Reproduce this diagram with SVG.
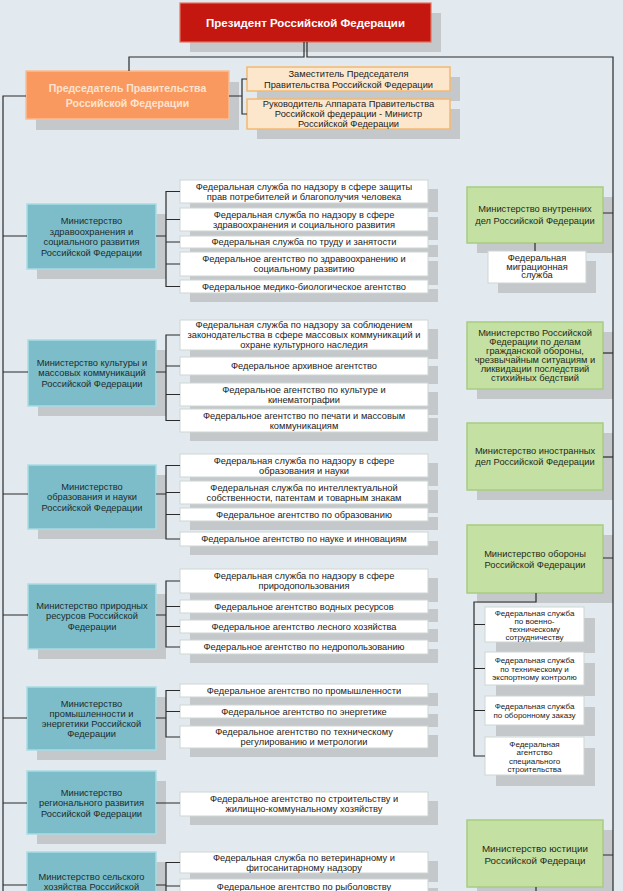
<svg xmlns="http://www.w3.org/2000/svg" width="623" height="891" viewBox="0 0 623 891">
<style>
.sh{fill:#c4c8cb}
.pres{fill:#c3170f;stroke:#e4735f;stroke-width:1.2}
.chair{fill:#f9995f;stroke:#fbbd93;stroke-width:1.5}
.dep{fill:#fde7cc;stroke:#f4b870;stroke-width:1.5}
.min{fill:#7cbdc9;stroke:#a9dbe3;stroke-width:1.5}
.svc{fill:#ffffff;stroke:#cdd6d2;stroke-width:1}
.grn{fill:#c5e0a3;stroke:#a7cd80;stroke-width:1.5}
.conn{stroke:#2b2b2b;stroke-width:1.2;fill:none}
text{font-family:"Liberation Sans",Arial,sans-serif;text-anchor:middle;dominant-baseline:central;fill:#222}
.tp{font-size:11.5px;font-weight:bold;fill:#ffffff}
.tc{font-size:10.5px;font-weight:bold;fill:#fde3cf}
.t{font-size:9.3px}
.tm{font-size:9.3px;fill:#1d2b2e}
.tg{font-size:9.3px;fill:#1f2a18}
.ts{font-size:8px}
</style>
<rect width="623" height="891" fill="#e3eaef"/>

<g id="president"><rect class="sh" x="190" y="13" width="251" height="39"/><rect class="pres" x="180" y="3" width="251" height="39"/><text class="tp" x="305.5" y="22.5">Президент Российской Федерации</text></g>

<g id="chairman"><rect class="sh" x="36" y="82" width="203" height="48"/><rect class="chair" x="26" y="71" width="203" height="48"/><text class="tc"><tspan x="127.5" y="88">Председатель Правительства</tspan><tspan x="127.5" y="103">Российской Федерации</tspan></text></g>

<g id="deputy1"><rect class="sh" x="257" y="77" width="203" height="24"/><rect class="dep" x="247" y="67" width="203" height="24"/><text class="t"><tspan x="348.5" y="73.5">Заместитель Председателя</tspan><tspan x="348.5" y="84.5">Правительства Российской Федерации</tspan></text></g>

<g id="deputy2"><rect class="sh" x="257" y="109" width="203" height="30"/><rect class="dep" x="247" y="99" width="203" height="30"/><text class="t"><tspan x="348.5" y="104">Руководитель Аппарата Правительства</tspan><tspan x="348.5" y="114">Российской федерации - Министр</tspan><tspan x="348.5" y="124">Российской Федерации</tspan></text></g>

<!-- Ministry 1 -->
<g id="m1"><rect class="sh" x="37" y="214" width="129" height="65"/><rect class="min" x="27" y="204" width="129" height="65"/><text class="tm"><tspan x="91.5" y="221">Министерство</tspan><tspan x="91.5" y="231.5">здравоохранения и</tspan><tspan x="91.5" y="242">социального развития</tspan><tspan x="91.5" y="252.5">Российской Федерации</tspan></text></g>
<g id="m1s1"><rect class="sh" x="190" y="189" width="248" height="23"/><rect class="svc" x="180" y="180" width="248" height="23"/><text class="t"><tspan x="304" y="186.5">Федеральная служба по надзору в сфере защиты</tspan><tspan x="304" y="196.5">прав потребителей и благополучия человека</tspan></text></g>
<g id="m1s2"><rect class="sh" x="190" y="217" width="248" height="23"/><rect class="svc" x="180" y="208" width="248" height="23"/><text class="t"><tspan x="304" y="214.5">Федеральная служба по надзору в сфере</tspan><tspan x="304" y="224.5">здравоохранения и социального развития</tspan></text></g>
<g id="m1s3"><rect class="sh" x="190" y="245" width="248" height="12"/><rect class="svc" x="180" y="236" width="248" height="12"/><text class="t" x="304" y="242">Федеральная служба по труду и занятости</text></g>
<g id="m1s4"><rect class="sh" x="190" y="261" width="248" height="24"/><rect class="svc" x="180" y="252" width="248" height="24"/><text class="t"><tspan x="304" y="259">Федеральное агентство по здравоохранению и</tspan><tspan x="304" y="269">социальному развитию</tspan></text></g>
<g id="m1s5"><rect class="sh" x="190" y="289" width="248" height="13"/><rect class="svc" x="180" y="280" width="248" height="13"/><text class="t" x="304" y="286.5">Федеральное медико-биологическое агентство</text></g>

<!-- Ministry 2 -->
<g id="m2"><rect class="sh" x="38" y="350" width="128" height="66"/><rect class="min" x="28" y="340" width="128" height="66"/><text class="tm"><tspan x="92" y="362.5">Министерство культуры и</tspan><tspan x="92" y="373">массовых коммуникаций</tspan><tspan x="92" y="383.5">Российской Федерации</tspan></text></g>
<g id="m2s1"><rect class="sh" x="190" y="329" width="248" height="30"/><rect class="svc" x="180" y="320" width="248" height="30"/><text class="t"><tspan x="304" y="325">Федеральная служба по надзору за соблюдением</tspan><tspan x="304" y="335">законодательства в сфере массовых коммуникаций и</tspan><tspan x="304" y="345">охране культурного наследия</tspan></text></g>
<g id="m2s2"><rect class="sh" x="190" y="366" width="248" height="18"/><rect class="svc" x="180" y="357" width="248" height="18"/><text class="t" x="304" y="366">Федеральное архивное агентство</text></g>
<g id="m2s3"><rect class="sh" x="190" y="392" width="248" height="23"/><rect class="svc" x="180" y="383" width="248" height="23"/><text class="t"><tspan x="304" y="389.5">Федеральное агентство по культуре и</tspan><tspan x="304" y="399.5">кинематографии</tspan></text></g>
<g id="m2s4"><rect class="sh" x="190" y="418" width="248" height="23"/><rect class="svc" x="180" y="409" width="248" height="23"/><text class="t"><tspan x="304" y="415.5">Федеральное агентство по печати и массовым</tspan><tspan x="304" y="425.5">коммуникациям</tspan></text></g>

<!-- Ministry 3 -->
<g id="m3"><rect class="sh" x="38" y="475" width="128" height="64"/><rect class="min" x="28" y="465" width="128" height="64"/><text class="tm"><tspan x="92" y="486.5">Министерство</tspan><tspan x="92" y="497">образования и науки</tspan><tspan x="92" y="507.5">Российской Федерации</tspan></text></g>
<g id="m3s1"><rect class="sh" x="190" y="463" width="248" height="23"/><rect class="svc" x="180" y="454" width="248" height="23"/><text class="t"><tspan x="304" y="460.5">Федеральная служба по надзору в сфере</tspan><tspan x="304" y="470.5">образования и науки</tspan></text></g>
<g id="m3s2"><rect class="sh" x="190" y="490" width="248" height="23"/><rect class="svc" x="180" y="481" width="248" height="23"/><text class="t"><tspan x="304" y="487.5">Федеральная служба по интеллектуальной</tspan><tspan x="304" y="497.5">собственности, патентам и товарным знакам</tspan></text></g>
<g id="m3s3"><rect class="sh" x="190" y="517" width="248" height="13"/><rect class="svc" x="180" y="508" width="248" height="13"/><text class="t" x="304" y="514.5">Федеральное агентство по образованию</text></g>
<g id="m3s4"><rect class="sh" x="190" y="541" width="248" height="14"/><rect class="svc" x="180" y="532" width="248" height="14"/><text class="t" x="304" y="539">Федеральное агентство по науке и инновациям</text></g>

<!-- Ministry 4 -->
<g id="m4"><rect class="sh" x="38" y="594" width="128" height="65"/><rect class="min" x="28" y="584" width="128" height="65"/><text class="tm"><tspan x="92" y="605.5">Министерство природных</tspan><tspan x="92" y="616">ресурсов Российской</tspan><tspan x="92" y="626.5">Федерации</tspan></text></g>
<g id="m4s1"><rect class="sh" x="190" y="578" width="248" height="24"/><rect class="svc" x="180" y="569" width="248" height="24"/><text class="t"><tspan x="304" y="576">Федеральная служба по надзору в сфере</tspan><tspan x="304" y="586">природопользования</tspan></text></g>
<g id="m4s2"><rect class="sh" x="190" y="609" width="248" height="13"/><rect class="svc" x="180" y="600" width="248" height="13"/><text class="t" x="304" y="606.5">Федеральное агентство водных ресурсов</text></g>
<g id="m4s3"><rect class="sh" x="190" y="629" width="248" height="13"/><rect class="svc" x="180" y="620" width="248" height="13"/><text class="t" x="304" y="626.5">Федеральное агентство лесного хозяйства</text></g>
<g id="m4s4"><rect class="sh" x="190" y="649" width="248" height="14"/><rect class="svc" x="180" y="640" width="248" height="14"/><text class="t" x="304" y="647">Федеральное агентство по недропользованию</text></g>

<!-- Ministry 5 -->
<g id="m5"><rect class="sh" x="37" y="697" width="129" height="63"/><rect class="min" x="27" y="687" width="129" height="63"/><text class="tm"><tspan x="91.5" y="703.5">Министерство</tspan><tspan x="91.5" y="713.5">промышленности и</tspan><tspan x="91.5" y="723.5">энергетики Российской</tspan><tspan x="91.5" y="733.5">Федерации</tspan></text></g>
<g id="m5s1"><rect class="sh" x="190" y="693" width="248" height="13"/><rect class="svc" x="180" y="684" width="248" height="13"/><text class="t" x="304" y="690.5">Федеральное агентство по промышленности</text></g>
<g id="m5s2"><rect class="sh" x="190" y="714" width="248" height="13"/><rect class="svc" x="180" y="705" width="248" height="13"/><text class="t" x="304" y="711.5">Федеральное агентство по энергетике</text></g>
<g id="m5s3"><rect class="sh" x="190" y="735" width="248" height="22"/><rect class="svc" x="180" y="726" width="248" height="22"/><text class="t"><tspan x="304" y="732">Федеральное агентство по техническому</tspan><tspan x="304" y="742">регулированию и метрологии</tspan></text></g>

<!-- Ministry 6 -->
<g id="m6"><rect class="sh" x="37" y="781" width="129" height="63"/><rect class="min" x="27" y="771" width="129" height="63"/><text class="tm"><tspan x="91.5" y="792.5">Министерство</tspan><tspan x="91.5" y="803">регионального развития</tspan><tspan x="91.5" y="813.5">Российской Федерации</tspan></text></g>
<g id="m6s1"><rect class="sh" x="190" y="801" width="248" height="24"/><rect class="svc" x="180" y="792" width="248" height="24"/><text class="t"><tspan x="304" y="799">Федеральное агентство по строительству и</tspan><tspan x="304" y="809">жилищно-коммунальному хозяйству</tspan></text></g>

<!-- Ministry 7 -->
<g id="m7"><rect class="sh" x="37" y="862" width="129" height="50"/><rect class="min" x="27" y="852" width="129" height="60"/><text class="tm"><tspan x="91.5" y="876.5">Министерство сельского</tspan><tspan x="91.5" y="886.5">хозяйства Российской</tspan></text></g>
<g id="m7s1"><rect class="sh" x="190" y="861" width="248" height="21"/><rect class="svc" x="180" y="852" width="248" height="21"/><text class="t"><tspan x="304" y="857.5">Федеральная служба по ветеринарному и</tspan><tspan x="304" y="867.5">фитосанитарному надзору</tspan></text></g>
<g id="m7s2"><rect class="sh" x="190" y="888" width="248" height="18"/><rect class="svc" x="180" y="879" width="248" height="18"/><text class="t" x="304" y="886.5">Федеральное агентство по рыболовству</text></g>

<!-- Right column -->
<g id="mvd"><rect class="sh" x="477" y="197" width="136" height="56"/><rect class="grn" x="467" y="187" width="136" height="56"/><text class="tg"><tspan x="535" y="209">Министерство внутренних</tspan><tspan x="535" y="221">дел Российской Федерации</tspan></text></g>
<g id="migr"><rect class="sh" x="498" y="261" width="98" height="32"/><rect class="svc" x="488" y="251" width="98" height="32"/><text class="t"><tspan x="537" y="258">Федеральная</tspan><tspan x="537" y="266.5">миграционная</tspan><tspan x="537" y="275">служба</tspan></text></g>
<g id="mchs"><rect class="sh" x="477" y="332" width="136" height="67"/><rect class="grn" x="467" y="322" width="136" height="67"/><text class="tg"><tspan x="535" y="333">Министерство Российской</tspan><tspan x="535" y="342">Федерации по делам</tspan><tspan x="535" y="351">гражданской обороны,</tspan><tspan x="535" y="360">чрезвычайным ситуациям и</tspan><tspan x="535" y="369">ликвидации последствий</tspan><tspan x="535" y="378">стихийных бедствий</tspan></text></g>
<g id="mid"><rect class="sh" x="477" y="433" width="136" height="67"/><rect class="grn" x="467" y="423" width="136" height="67"/><text class="tg"><tspan x="535" y="451">Министерство иностранных</tspan><tspan x="535" y="462">дел Российской Федерации</tspan></text></g>
<g id="mo"><rect class="sh" x="477" y="535" width="136" height="68"/><rect class="grn" x="467" y="525" width="136" height="68"/><text class="tg"><tspan x="535" y="554">Министерство обороны</tspan><tspan x="535" y="565">Российской Федерации</tspan></text></g>
<g id="mo1"><rect class="sh" x="496" y="618" width="99" height="35"/><rect class="svc" x="485" y="607" width="99" height="35"/><text class="ts"><tspan x="534.5" y="612.5">Федеральная служба</tspan><tspan x="534.5" y="620.5">по военно-</tspan><tspan x="534.5" y="628.5">техническому</tspan><tspan x="534.5" y="636.5">сотрудничеству</tspan></text></g>
<g id="mo2"><rect class="sh" x="496" y="663" width="99" height="33"/><rect class="svc" x="485" y="652" width="99" height="33"/><text class="ts"><tspan x="534.5" y="660">Федеральная служба</tspan><tspan x="534.5" y="668.5">по техническому и</tspan><tspan x="534.5" y="677">экспортному контролю</tspan></text></g>
<g id="mo3"><rect class="sh" x="496" y="707" width="99" height="29"/><rect class="svc" x="485" y="696" width="99" height="29"/><text class="ts"><tspan x="534.5" y="706">Федеральная служба</tspan><tspan x="534.5" y="715">по оборонному заказу</tspan></text></g>
<g id="mo4"><rect class="sh" x="496" y="748" width="99" height="38"/><rect class="svc" x="485" y="737" width="99" height="38"/><text class="ts"><tspan x="534.5" y="743.5">Федеральная</tspan><tspan x="534.5" y="752">агентство</tspan><tspan x="534.5" y="760.5">специального</tspan><tspan x="534.5" y="769">строительства</tspan></text></g>
<g id="mj"><rect class="sh" x="477" y="830" width="136" height="67"/><rect class="grn" x="467" y="820" width="136" height="67"/><text class="tg" style="font-size:9.8px"><tspan x="535" y="848">Министерство юстиции</tspan><tspan x="535" y="859.5">Российской Федераци</tspan></text></g>

<g id="connectors" class="conn">
<path d="M304,42V57H129V71"/>
<path d="M307,42V57H613V891"/>
<path d="M26,96H3V891"/>
<path d="M229,96H242M247,79H242V114H247"/>
<path d="M3,236H27M156,236H166M180,191.5H166V286.5H180M166,219.5H180M166,242H180M166,264H180"/>
<path d="M3,372H28M156,372H166M180,335H166V420.5H180M166,366H180M166,394.5H180"/>
<path d="M3,494H28M156,494H166M180,465.5H166V539H180M166,492.5H180M166,514.5H180"/>
<path d="M3,615H28M156,615H166M180,581H166V647H180M166,606.5H180M166,626.5H180"/>
<path d="M3,718H27M156,718H166M180,690.5H166V737H180M166,711.5H180"/>
<path d="M3,803H27M156,803H180"/>
<path d="M3,885H27M156,885H166M180,862.5H166V891M166,886H180"/>
<path d="M603,213H613M535,243V251"/>
<path d="M603,353H613"/>
<path d="M603,457H613"/>
<path d="M603,558H613M536,593V602H474V756H485M474,624.5H485M474,668.5H485M474,710.5H485"/>
<path d="M603,855H613M536,887V891"/>
</g>
</svg>
